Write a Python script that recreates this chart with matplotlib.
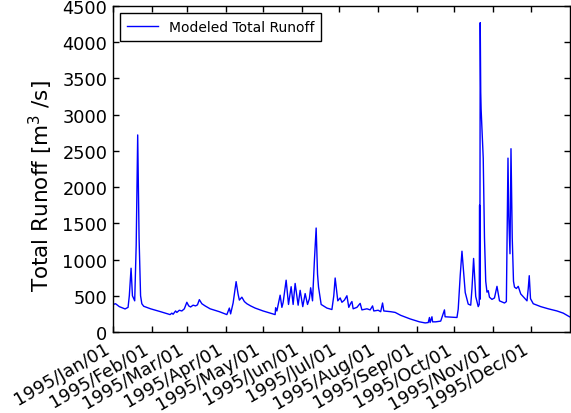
import datetime as dt
import matplotlib
matplotlib.use("Agg")
import matplotlib.pyplot as plt
import matplotlib.dates as mdates

# Vertices: day offset from 1995-01-01 and runoff [m3/s]
day_offsets = [
    0, 2, 5, 9.6, 12, 13, 14.4, 15.5, 17.3, 18.5, 19.7, 20.8, 22, 23, 24.5, 30, 38,
    45.6, 47, 48, 50, 51, 53, 55, 57, 59, 60.5, 62, 64, 66, 67.5, 69, 71, 73.6, 77.6,
    85, 91, 93, 94, 96, 98.4, 100, 101, 103, 105, 107, 110, 113.6, 120, 129.6, 130,
    131, 133.6, 135, 136, 138.4, 140.3, 142.4, 144, 145.6, 148, 149.6, 151.7, 153.6,
    155.5, 157, 158, 159.5, 161, 162.4, 163.5, 164.3, 166.4, 171, 175, 176.5, 177.6,
    179.7, 181.6, 183, 185, 187, 188.5, 190, 191, 192, 195, 197.6, 199, 203, 205.6,
    207.5, 208.5, 212, 214, 215.5, 216.5, 222, 225.6, 230, 237.6, 245, 249.6, 252,
    253, 253.5, 255, 255.5, 258, 262, 265, 265.5, 270, 275, 276, 277.6, 279, 281.6,
    284, 286, 287, 288.3, 290, 292, 292.8, 293.1, 293.3, 293.6, 294.0, 294.3, 295,
    296, 297, 298, 299, 300, 301, 303, 305, 307, 309, 313, 314.5, 315.8, 316.4,
    317.4, 318.2, 319.2, 320.2, 321, 322.5, 324, 326, 331, 332, 332.8, 333.8, 336,
    342, 348, 355, 360, 365,
]
runoff = [
    380, 390, 350, 318, 340, 500, 880, 500, 430, 1200, 2720, 1300, 500, 390, 355, 320, 280,
    240, 260, 245, 290, 270, 300, 290, 320, 410, 360, 345, 370, 360, 375, 446, 390, 360, 320,
    280, 240, 330, 250, 400, 695, 520, 440, 480, 420, 390, 360, 330, 290, 240, 335,
    290, 508, 340, 407, 715, 380, 625, 380, 670, 370, 575, 350, 530,
    380, 460, 610, 430, 985, 1435, 800, 620, 380, 330, 310, 500, 745,
    430, 470, 410, 440, 500, 340, 395, 420, 320, 340, 395, 305, 320, 305,
    360, 290, 300, 280, 400, 290, 280, 270, 230, 180, 140, 125, 130,
    200, 130, 210, 140, 140, 150, 305, 210, 205, 200, 315, 780, 1115, 545,
    385, 370, 600, 1015, 490, 350, 380, 1750, 450, 4270, 3310, 3080, 2800,
    2400, 1300, 700, 550, 570, 480, 450, 470, 630, 430, 400, 420, 2400, 1600,
    1080, 2530, 1300, 700, 620, 600, 630, 525, 430, 600, 777, 460, 390,
    350, 320, 290, 260, 210,
]
series_label = "Modeled Total Runoff"
y_label = "Total Runoff [m$^3$ /s]"
tick_months = list(range(1, 13))
start = dt.datetime(1995, 1, 1)
end = dt.datetime(1996, 1, 1)

dates = [start + dt.timedelta(days=d) for d in day_offsets]

fig = plt.figure(figsize=(5.71, 4.14), dpi=100)
ax = fig.add_axes([0.198, 0.1957, 0.7994, 0.7874])
ax.plot(dates, runoff, color="#0000ff", lw=1.0, label=series_label)

ax.set_xlim(start, end)
ax.set_ylim(0, 4500)
ax.set_yticks(range(0, 4501, 500))
ax.set_xticks([dt.datetime(1995, m, 1) for m in tick_months])
ax.xaxis.set_major_formatter(mdates.DateFormatter("%Y/%b/%d"))
ax.tick_params(direction="in", top=True, right=True, length=4, width=1,
               labelsize=12.8)
ax.tick_params(axis="x", pad=5)
ax.tick_params(axis="y", pad=4)
for lbl in ax.get_xticklabels():
    lbl.set_rotation(30)
    lbl.set_ha("right")
for s in ax.spines.values():
    s.set_linewidth(1.0)

ax.set_ylabel(y_label, fontsize=15.5)
ax.yaxis.set_label_coords(-0.127, 0.45)

leg = ax.legend(loc="upper left", fontsize=10, fancybox=False, framealpha=1,
                edgecolor="black", handlelength=2.2, borderpad=0.5,
                bbox_to_anchor=(0.0, 1.0), borderaxespad=0.5)
leg.get_frame().set_linewidth(1.0)

fig.savefig("out.png", dpi=100)
